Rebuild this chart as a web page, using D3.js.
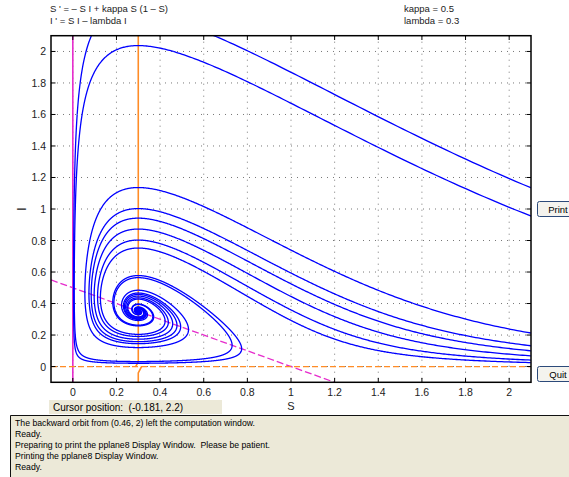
<!DOCTYPE html>
<html>
<head>
<meta charset="utf-8">
<script src="https://cdn.jsdelivr.net/npm/d3@7/dist/d3.min.js"></script>
<style>
  html, body { margin: 0; padding: 0; background: #fff; }
  svg text { font-family: "Liberation Sans", Arial, sans-serif; white-space: pre; }
</style>
</head>
<body>
<svg id="chart" width="569" height="477"></svg>
<script>
// Model parameters
const kappa = 0.5;
const lambda = 0.3;

// Axis ticks
const sTicks = [0, 0.2, 0.4, 0.6, 0.8, 1, 1.2, 1.4, 1.6, 1.8, 2];
const iTicks = [0, 0.2, 0.4, 0.6, 0.8, 1, 1.2, 1.4, 1.6, 1.8, 2];
const sDomain = [-0.1, 2.1];
const iDomain = [-0.1, 2.1];

// Initial points of the solution curves (S, I); each is followed forward and backward in time
const startS = [0.46, 2.099, 0.02, 2.099, 2.099, 2.099, 2.099, 2.099, 2.099];
const startI = [2.0, 1.135, 1.6, 0.213, 0.132, 0.1, 0.068, 0.041, 0.025];

// Header and status texts
const equations = ["S ' = \u2013 S I + kappa S (1 \u2013 S)", "I ' = S I \u2013 lambda I"];
const paramLines = ["kappa = " + kappa, "lambda = " + lambda];
const cursorText = "Cursor position:  (-0.181, 2.2)";
const messages = [
  "The backward orbit from (0.46, 2) left the computation window.",
  "Ready.",
  "Preparing to print the pplane8 Display Window.  Please be patient.",
  "Printing the pplane8 Display Window.",
  "Ready."
];

const svg = d3.select("#chart");
const x = d3.scaleLinear().domain(sDomain).range([51, 531]);
const y = d3.scaleLinear().domain(iDomain).range([382.3, 35.7]);

// Vector field
function field(s, i) {
  return [-s * i + kappa * s * (1 - s), s * i - lambda * i];
}
function rk4(p, h) {
  const k1 = field(p[0], p[1]);
  const k2 = field(p[0] + h / 2 * k1[0], p[1] + h / 2 * k1[1]);
  const k3 = field(p[0] + h / 2 * k2[0], p[1] + h / 2 * k2[1]);
  const k4 = field(p[0] + h * k3[0], p[1] + h * k3[1]);
  return [p[0] + h / 6 * (k1[0] + 2 * k2[0] + 2 * k3[0] + k4[0]),
          p[1] + h / 6 * (k1[1] + 2 * k2[1] + 2 * k3[1] + k4[1])];
}
const eq = [lambda, kappa * (1 - lambda)];
function orbit(p0, h) {
  const pts = [p0];
  let p = p0;
  for (let n = 0; n < 40000; n++) {
    p = rk4(p, h);
    pts.push(p);
    if (p[0] < sDomain[0] || p[0] > sDomain[1] || p[1] < iDomain[0] || p[1] > iDomain[1]) break;
    if (Math.hypot(p[0] - eq[0], p[1] - eq[1]) < 0.002) break;
  }
  return pts;
}

// Clip region for the plot
svg.append("defs").append("clipPath").attr("id", "plotclip")
  .append("rect").attr("x", 51).attr("y", 35.7).attr("width", 480).attr("height", 346.6);

// Dotted grid
const grid = svg.append("g");
grid.selectAll("line.gx").data(sTicks).join("line")
  .attr("x1", d => x(d)).attr("x2", d => x(d)).attr("y1", y(iDomain[1])).attr("y2", y(iDomain[0]))
  .attr("stroke", "#777").attr("stroke-width", 1).attr("stroke-dasharray", "1,5");
grid.selectAll("line.gy").data(iTicks).join("line")
  .attr("y1", d => y(d)).attr("y2", d => y(d)).attr("x1", x(sDomain[0])).attr("x2", x(sDomain[1]))
  .attr("stroke", "#777").attr("stroke-width", 1).attr("stroke-dasharray", "1,5");

// Nullclines
const plot = svg.append("g").attr("clip-path", "url(#plotclip)");
const line = d3.line().x(d => x(d[0])).y(d => y(d[1]));
const magenta = "#e62ccc", orange = "#ff8c26";
// S' = 0 : S = 0 and I = kappa (1 - S)
plot.append("path").datum([[0, iDomain[0]], [0, iDomain[1]]]).attr("d", line)
  .attr("stroke", magenta).attr("stroke-width", 1.6).attr("fill", "none");
plot.append("path").datum([[sDomain[0], kappa * (1 - sDomain[0])], [1 + 0.1 / kappa, iDomain[0]]]).attr("d", line)
  .attr("stroke", magenta).attr("stroke-width", 1.3).attr("fill", "none").attr("stroke-dasharray", "7,3");
// I' = 0 : I = 0 and S = lambda
plot.append("path").datum([[sDomain[0], 0], [sDomain[1], 0]]).attr("d", line)
  .attr("stroke", orange).attr("stroke-width", 1.3).attr("fill", "none").attr("stroke-dasharray", "6,3");
plot.append("path").datum([[lambda, iDomain[1]], [lambda, 0.03], [lambda - 0.012, 0]]).attr("d", line)
  .attr("stroke", orange).attr("stroke-width", 1.6).attr("fill", "none");
plot.append("path").datum([[lambda + 0.015, 0], [lambda, -0.04], [lambda, iDomain[0]]]).attr("d", line)
  .attr("stroke", orange).attr("stroke-width", 1.6).attr("fill", "none");

// Solution curves
const curves = [];
startS.forEach((s0, k) => {
  const p0 = [s0, startI[k]];
  curves.push(orbit(p0, 0.01));
  curves.push(orbit(p0, -0.01));
});
plot.selectAll("path.orbit").data(curves).join("path").attr("class", "orbit")
  .attr("d", line).attr("fill", "none").attr("stroke", "#0000ff").attr("stroke-width", 1.3);

// Frame and ticks
svg.append("rect").attr("x", 51).attr("y", 35.7).attr("width", 480).attr("height", 346.6)
  .attr("fill", "none").attr("stroke", "#000").attr("stroke-width", 1.5);
const tk = svg.append("g").attr("stroke", "#000").attr("stroke-width", 1);
sTicks.forEach(d => {
  tk.append("line").attr("x1", x(d)).attr("x2", x(d)).attr("y1", 382.3).attr("y2", 378);
  tk.append("line").attr("x1", x(d)).attr("x2", x(d)).attr("y1", 35.7).attr("y2", 40);
});
iTicks.forEach(d => {
  tk.append("line").attr("y1", y(d)).attr("y2", y(d)).attr("x1", 51).attr("x2", 55.5);
  tk.append("line").attr("y1", y(d)).attr("y2", y(d)).attr("x1", 531).attr("x2", 526.5);
});
const fmt = d => String(d);
svg.append("g").selectAll("text").data(sTicks).join("text")
  .attr("x", d => x(d)).attr("y", 396).attr("text-anchor", "middle")
  .attr("font-size", 10.5).attr("fill", "#222").text(fmt);
svg.append("g").selectAll("text").data(iTicks).join("text")
  .attr("x", 46).attr("y", d => y(d) + 4).attr("text-anchor", "end")
  .attr("font-size", 10.5).attr("fill", "#222").text(fmt);

// Axis labels
svg.append("text").attr("x", 291).attr("y", 410).attr("text-anchor", "middle")
  .attr("font-size", 11).attr("fill", "#222").text("S");
svg.append("text").attr("transform", "translate(26,209) rotate(-90)").attr("text-anchor", "middle")
  .attr("font-size", 12).attr("fill", "#222").text("I");

// Header
svg.append("g").selectAll("text").data(equations).join("text")
  .attr("x", 50).attr("y", (d, k) => 12 + k * 11.5).attr("font-size", 9.5).attr("fill", "#222").text(d => d);
svg.append("g").selectAll("text").data(paramLines).join("text")
  .attr("x", 404).attr("y", (d, k) => 12 + k * 11.5).attr("font-size", 9.5).attr("fill", "#222").text(d => d);

// Buttons
[["Print", 209], ["Quit", 374]].forEach(([label, cy]) => {
  svg.append("rect").attr("x", 537.5).attr("y", cy - 7.5).attr("width", 40).attr("height", 15).attr("rx", 2)
    .attr("fill", "#f4f3ee").attr("stroke", "#2c4a7a").attr("stroke-width", 1);
  svg.append("text").attr("x", 558).attr("y", cy + 3.5).attr("text-anchor", "middle")
    .attr("font-size", 9.5).attr("fill", "#000").text(label);
});

// Cursor readout
svg.append("rect").attr("x", 49).attr("y", 400).attr("width", 173).attr("height", 14).attr("fill", "#ece9d8");
svg.append("text").attr("x", 53).attr("y", 410.5).attr("font-size", 10).attr("fill", "#000").text(cursorText);

// Message panel
svg.append("rect").attr("x", 10).attr("y", 415).attr("width", 559).attr("height", 62).attr("fill", "#ece9d8");
svg.append("path").attr("d", "M10.5,477 V415.5 H569").attr("stroke", "#111").attr("stroke-width", 1).attr("fill", "none");
svg.append("g").selectAll("text").data(messages).join("text")
  .attr("x", 15).attr("y", (d, k) => 425.5 + k * 11).attr("font-size", 8.7)
  .attr("font-family", "'DejaVu Sans', sans-serif").attr("fill", "#000").text(d => d);
</script>
</body>
</html>
